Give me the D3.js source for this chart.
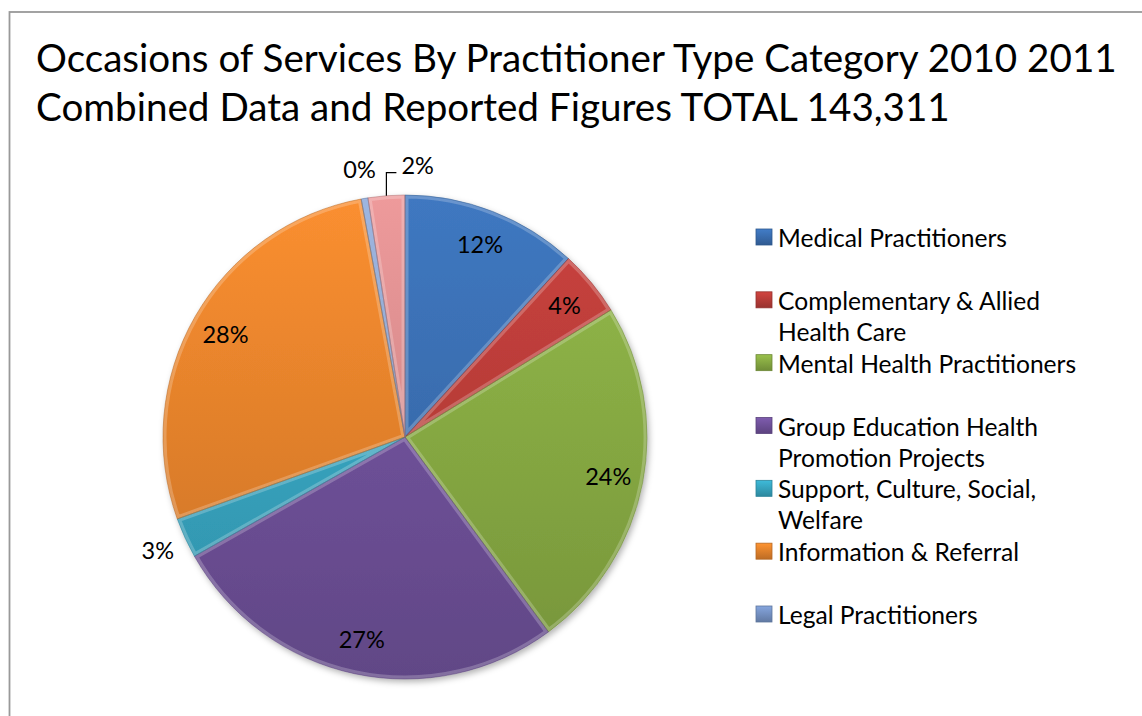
<!DOCTYPE html>
<html>
<head>
<meta charset="utf-8">
<script src="https://cdn.jsdelivr.net/npm/d3@7"></script>
<style>
  html, body { margin: 0; padding: 0; background: #fff; }
  svg { display: block; font-family: Lato, "Open Sans", sans-serif; }
</style>
</head>
<body>
<svg id="chart" width="1142" height="716"></svg>
<script>
// Dados (percentuais de 143.311 ocasiões)
const categories = [
  "Medical Practitioners",
  "Complementary & Allied Health Care",
  "Mental Health Practitioners",
  "Group Education Health Promotion Projects",
  "Support, Culture, Social, Welfare",
  "Information & Referral",
  "Legal Practitioners",
  "Other"
];
const shares = [11.8, 4.4, 23.7, 26.9, 2.7, 27.6, 0.45, 2.45];
const colors = ["#3d74ba", "#c4403c", "#8fb447", "#7656a3", "#3aaecb", "#f28a2e", "#7d9bd0", "#e69596"];
const legendCount = 7; // a legenda mostra apenas as 7 primeiras categorias
const titleLines = [
  "Occasions of Services By Practitioner Type Category 2010 2011",
  "Combined Data and Reported Figures TOTAL 143,311"
];

const svg = d3.select("#chart");
const cx = 405, cy = 437, R = 242;

// Ajusta o tamanho da fonte para que o texto ocupe a largura desejada
function fitFont(sel, target) {
  sel.attr("font-size", 20);
  const w = sel.node().getComputedTextLength();
  sel.attr("font-size", 20 * target / w);
  return 20 * target / w;
}

// Moldura do gráfico
svg.append("rect")
  .attr("x", 9.5).attr("y", 12)
  .attr("width", 1200).attr("height", 800)
  .attr("fill", "#fff")
  .attr("stroke", "#999").attr("stroke-width", 1.8);

// Título
const t1 = svg.append("text").attr("x", 36).attr("y", 72).attr("fill", "#000").text(titleLines[0]);
const titleSize = fitFont(t1, 1081);
svg.append("text").attr("x", 36).attr("y", 121).attr("fill", "#000")
  .attr("font-size", titleSize).text(titleLines[1]);

// Gradientes e sombra
const defs = svg.append("defs");
const shadow = defs.append("filter").attr("id", "shadow")
  .attr("x", "-10%").attr("y", "-10%").attr("width", "120%").attr("height", "120%");
shadow.append("feDropShadow").attr("dx", 2).attr("dy", 3).attr("stdDeviation", 3)
  .attr("flood-color", "#000").attr("flood-opacity", 0.3);

// coordenadas relativas ao centro da pizza (o grupo é transladado)
colors.forEach((c, i) => {
  const g = defs.append("linearGradient").attr("id", "grad" + i)
    .attr("gradientUnits", "userSpaceOnUse")
    .attr("x1", 0).attr("y1", -R).attr("x2", 0).attr("y2", R);
  g.append("stop").attr("offset", "0%").attr("stop-color", d3.color(c).brighter(0.1));
  g.append("stop").attr("offset", "100%").attr("stop-color", d3.color(c).darker(0.55));
});

// Pizza
const pie = d3.pie().sort(null).value(d => d.value);
const data = pie(categories.map((name, i) => ({ name, value: shares[i], i })));
const arc = d3.arc().innerRadius(0).outerRadius(R);
const labelArc = d3.arc().innerRadius(207).outerRadius(207);
const outerLabelArc = d3.arc().innerRadius(272).outerRadius(272);

const gPie = svg.append("g").attr("transform", `translate(${cx},${cy})`);
const slices = gPie.append("g").attr("filter", "url(#shadow)");

data.forEach((d, i) => {
  defs.append("clipPath").attr("id", "clip" + i)
    .append("path").attr("d", arc(d));
});

slices.selectAll("path.slice")
  .data(data)
  .join("path")
  .attr("class", "slice")
  .attr("d", arc)
  .attr("fill", d => `url(#grad${d.data.i})`);

// Efeito de chanfro (bordas claras e escuras)
gPie.selectAll("path.bevel")
  .data(data)
  .join("path")
  .attr("class", "bevel")
  .attr("d", arc)
  .attr("clip-path", d => `url(#clip${d.data.i})`)
  .attr("fill", "none")
  .attr("stroke", "#fff").attr("stroke-opacity", 0.22).attr("stroke-width", 7);
gPie.selectAll("path.edge")
  .data(data)
  .join("path")
  .attr("class", "edge")
  .attr("d", arc)
  .attr("fill", "none")
  .attr("stroke", d => d3.color(colors[d.data.i]).darker(0.8))
  .attr("stroke-opacity", 0.5).attr("stroke-width", 1);

// Rótulos de percentual
const pct = d => Math.round(d.data.value) + "%";
const lblSize = 23.5;
const inside = data.filter(d => d.data.value > 4);
gPie.selectAll("text.lbl")
  .data(inside)
  .join("text")
  .attr("class", "lbl")
  .attr("transform", d => `translate(${labelArc.centroid(d)})`)
  .attr("text-anchor", "middle")
  .attr("dominant-baseline", "central")
  .attr("font-size", lblSize)
  .attr("fill", "#000")
  .text(pct);

// Rótulos externos (3% e 0%)
const outside = data.filter(d => d.data.value <= 4 && d.data.name !== "Other");
gPie.selectAll("text.out")
  .data(outside)
  .join("text")
  .attr("class", "out")
  .attr("transform", d => `translate(${outerLabelArc.centroid(d)})`)
  .attr("text-anchor", "middle")
  .attr("dominant-baseline", "central")
  .attr("font-size", lblSize)
  .attr("fill", "#000")
  .text(pct);

// Rótulo "Other" com linha de chamada
const other = data[data.length - 1];
const p0 = d3.arc().innerRadius(R).outerRadius(R).centroid(other);
const elbowY = p0[1] - 23;
gPie.append("path")
  .attr("d", `M${p0[0]},${p0[1]} V${elbowY} H${p0[0] + 10}`)
  .attr("fill", "none").attr("stroke", "#000").attr("stroke-width", 1.2);
gPie.append("text")
  .attr("x", p0[0] + 15).attr("y", elbowY - 8)
  .attr("dominant-baseline", "central")
  .attr("font-size", lblSize).attr("fill", "#000")
  .text(pct(other));

// Legenda
const legendY = d3.scaleLinear().domain([0, legendCount - 1]).range([237, 614]);
const legend = svg.append("g");
const legItems = legend.selectAll("g")
  .data(categories.slice(0, legendCount))
  .join("g")
  .attr("transform", (d, i) => `translate(756,${legendY(i)})`);

colors.slice(0, legendCount).forEach((c, i) => {
  const g = defs.append("linearGradient").attr("id", "lg" + i)
    .attr("x1", 0).attr("y1", 0).attr("x2", 0).attr("y2", 1);
  g.append("stop").attr("offset", "0%").attr("stop-color", d3.color(c).brighter(0.2));
  g.append("stop").attr("offset", "100%").attr("stop-color", d3.color(c).darker(0.7));
});

legItems.append("rect")
  .attr("x", 0).attr("y", -8).attr("width", 16).attr("height", 16)
  .attr("fill", (d, i) => `url(#lg${i})`)
  .attr("stroke", (d, i) => d3.color(colors[i]).darker(0.8)).attr("stroke-width", 0.8);

const probe = legend.append("text").text(categories[0]);
const legSize = fitFont(probe, 229);
probe.remove();

const maxW = 315, lineH = 31;
legItems.each(function (name) {
  const g = d3.select(this);
  const txt = g.append("text")
    .attr("x", 22).attr("y", 0)
    .attr("font-size", legSize).attr("fill", "#000")
    .attr("dominant-baseline", "central");
  const words = name.split(" ");
  let line = [];
  let tspan = txt.append("tspan").attr("x", 22).attr("dy", 0);
  words.forEach(w => {
    line.push(w);
    tspan.text(line.join(" "));
    if (tspan.node().getComputedTextLength() > maxW && line.length > 1) {
      line.pop();
      tspan.text(line.join(" "));
      line = [w];
      tspan = txt.append("tspan").attr("x", 22).attr("dy", lineH).text(w);
    }
  });
});
</script>
</body>
</html>
